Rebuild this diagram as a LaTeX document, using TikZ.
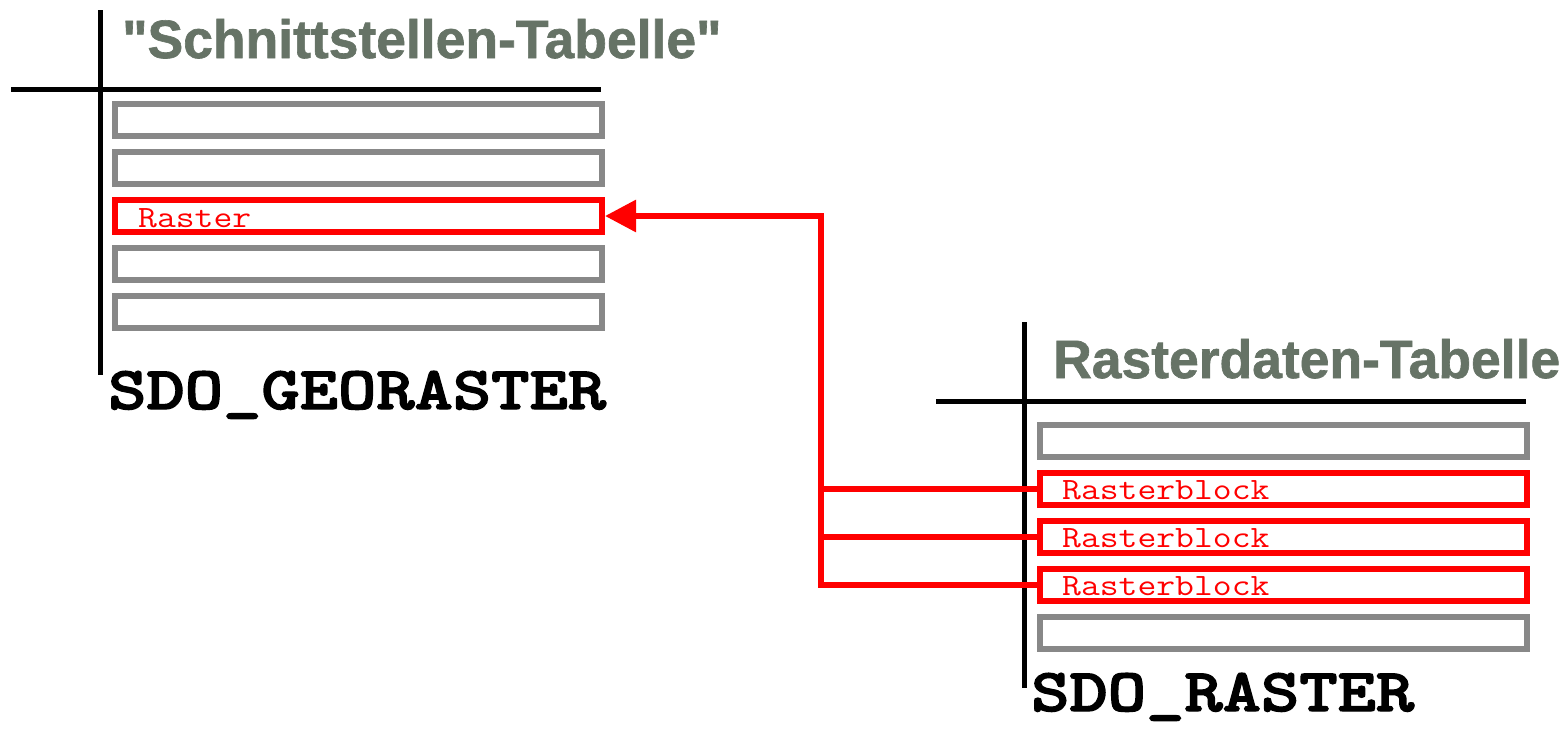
\documentclass[tikz,border=0pt]{standalone}
\usepackage{fontspec}
\setmainfont{Liberation Sans}
\newfontfamily\monoreg{Latin Modern Mono}
\newfontfamily\monobold{lmmonolt10-bold.otf}[FakeBold=2]
\font\titlefnt="Liberation Sans/B:embolden=1.2" at 54pt
\usetikzlibrary{arrows.meta}
\definecolor{titlegray}{RGB}{102,115,102}
\definecolor{rowgray}{RGB}{136,136,136}
\definecolor{linkred}{RGB}{255,0,0}
\tikzset{
  axis/.style={line width=5pt, black},
  rowbox/.style={draw=rowgray, line width=6pt, minimum width=487pt, minimum height=31.5pt, inner sep=0pt, anchor=center},
  redbox/.style={rowbox, draw=linkred},
  rowlabel/.style={font=\monoreg\fontsize{31}{31}\selectfont, text=linkred, anchor=base west, inner sep=0pt},
  tabtitle/.style={font=\titlefnt, text=titlegray, anchor=base west, inner sep=0pt},
  tabname/.style={font=\monobold\fontsize{61}{61}\selectfont, text=black, anchor=base west, inner sep=0pt},
  link/.style={draw=linkred, line width=6pt},
}
\begin{document}
\begin{tikzpicture}[x=1pt, y=-1pt]
\useasboundingbox (0,0) rectangle (1566,732);
% left table
\coordinate (lv1) at (100,10);
\coordinate (lv2) at (100,375);
\coordinate (lh1) at (11,89);
\coordinate (lh2) at (601,89);
\draw[axis] (lv1) -- (lv2);
\draw[axis] (lh1) -- (lh2);
\node[tabtitle] (t1) at (122,58) {\scalebox{0.99}[1]{"Schnittstellen-Tabelle"}};
\node[rowbox] (l1) at (358.5,120) {};
\node[rowbox] (l2) at (358.5,168) {};
\node[redbox] (l3) at (358.5,216) {};
\node[rowbox] (l4) at (358.5,264) {};
\node[rowbox] (l5) at (358.5,312) {};
\node[rowlabel] (rl) at (138,227) {\scalebox{1.18}[1]{Raster}};
\node[tabname] (n1) at (108,409) {\scalebox{1.196}[1]{SDO\_GEORASTER}};
% right table
\coordinate (rv1) at (1024,322);
\coordinate (rv2) at (1024,688);
\coordinate (rh1) at (936,401);
\coordinate (rh2) at (1526,401);
\draw[axis] (rv1) -- (rv2);
\draw[axis] (rh1) -- (rh2);
\node[tabtitle] (t2) at (1053,378) {\scalebox{0.99}[1]{Rasterdaten-Tabelle}};
\node[rowbox] (r1) at (1283.5,441) {};
\node[redbox] (r2) at (1283.5,489) {};
\node[redbox] (r3) at (1283.5,537) {};
\node[redbox] (r4) at (1283.5,585) {};
\node[rowbox] (r5) at (1283.5,633) {};
\node[rowlabel] (b2) at (1062,499.5) {\scalebox{1.18}[1]{Rasterblock}};
\node[rowlabel] (b3) at (1062,547.5) {\scalebox{1.18}[1]{Rasterblock}};
\node[rowlabel] (b4) at (1062,595.5) {\scalebox{1.18}[1]{Rasterblock}};
\node[tabname] (n2) at (1031,711) {\scalebox{1.196}[1]{SDO\_RASTER}};
% connectors
\coordinate (bus) at (821,0);
\draw[link] (r2.west) -- (r2.west -| bus);
\draw[link] (r3.west) -- (r3.west -| bus);
\draw[link, -{Triangle[length=31pt, width=31pt]}] (r4.west) -- (r4.west -| bus) -- (bus |- l3.east) -- (l3.east);
\end{tikzpicture}
\end{document}
